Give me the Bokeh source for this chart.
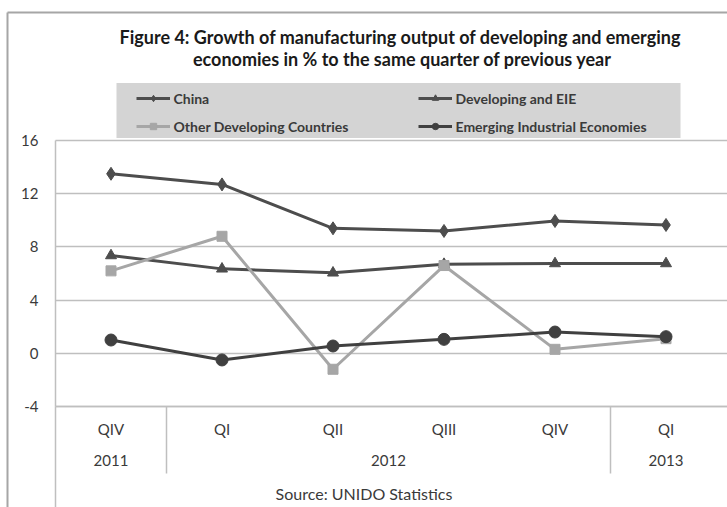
from bokeh.plotting import figure
from bokeh.models import (Range1d, FixedTicker, LinearAxis, Legend, LegendItem,
                          Label, BoxAnnotation)
from bokeh.embed import file_html
from bokeh.resources import INLINE

# ---- data ----
quarters = ["QIV", "QI", "QII", "QIII", "QIV", "QI"]
years = ["2011", "2012", "2012", "2012", "2012", "2013"]
china = [13.5, 12.7, 9.4, 9.2, 9.95, 9.65]
dev_eie = [7.35, 6.35, 6.05, 6.7, 6.75, 6.75]
other = [6.2, 8.8, -1.2, 6.6, 0.3, 1.1]
eie = [1.0, -0.5, 0.55, 1.05, 1.6, 1.25]
y_ticks = [-4, 0, 4, 8, 12, 16]
title_lines = ["Figure 4: Growth of manufacturing output of developing  and emerging",
               "economies in % to the same quarter of previous year"]
source = "Source: UNIDO Statistics"

FONT = "Lato"
GRID = "#bfbfbf"
BORDER = "#a6a6a6"
TXT = "#3a3a3a"
FS = "15px"

xs = [i + 0.5 for i in range(len(quarters))]

# year groups
bounds = [i for i in range(1, len(years)) if years[i] != years[i - 1]]
starts = [0] + bounds
ends = bounds + [len(years)]
year_centers = [(s + e) / 2 for s, e in zip(starts, ends)]
year_labels = [years[s] for s in starts]

# the frame covers the whole page; axes are pinned with fixed_location
x_start = -0.4955
x_end = len(quarters) + 0.054
y_min = min(y_ticks)
y_top = max(y_ticks) + 10.53
y_bottom = y_min - 7.594
p = figure(width=727, height=507, x_range=Range1d(x_start, x_end),
           y_range=Range1d(y_bottom, y_top),
           output_backend="svg", toolbar_location=None, y_axis_location=None,
           min_border_left=0, min_border_right=0,
           min_border_top=0, min_border_bottom=0)
p.outline_line_color = None
p.background_fill_color = "white"
p.border_fill_color = "white"
p.grid.visible = False


def plain_axis(**kw):
    base = dict(major_tick_in=0, major_tick_out=0, major_tick_line_color=None,
                minor_tick_in=0, minor_tick_out=0, minor_tick_line_color=GRID,
                minor_tick_line_width=1.5, axis_line_color=None,
                major_label_text_font=FONT, major_label_text_font_size=FS,
                major_label_text_color=TXT)
    base.update(kw)
    return base


# y axis at x = 0; its inward ticks are the horizontal gridlines
ya = LinearAxis(**plain_axis(ticker=FixedTicker(ticks=y_ticks), fixed_location=0,
                             bounds=(y_min, max(y_ticks)),
                             major_label_overrides={t: str(t) for t in y_ticks},
                             axis_line_color=GRID, axis_line_width=1.5,
                             major_tick_in=int(round(x_end * 111)), major_tick_line_color=GRID,
                             major_tick_line_width=1.5, major_label_standoff=17),
                level="underlay")
p.add_layout(ya, "left")

# quarter axis
xa = p.xaxis[0]
for k, v in plain_axis(ticker=FixedTicker(ticks=xs), fixed_location=y_min,
                       major_label_overrides={x: q for x, q in zip(xs, quarters)},
                       bounds=(0, x_end),
                       axis_line_color=GRID, axis_line_width=1.5,
                       major_label_standoff=13).items():
    setattr(xa, k, v)

# year axis
yr_ax = LinearAxis(**plain_axis(ticker=FixedTicker(ticks=year_centers), fixed_location=y_min,
                                major_label_overrides={x: y for x, y in zip(year_centers, year_labels)},
                                major_label_standoff=48))
p.add_layout(yr_ax, "below")

# year separators
sep_ax = LinearAxis(**plain_axis(ticker=FixedTicker(ticks=[], minor_ticks=bounds),
                                 fixed_location=y_min, minor_tick_out=67,
                                 major_label_standoff=0))
p.add_layout(sep_ax, "below")

# left line continuation to the bottom edge
edge_ax = LinearAxis(**plain_axis(ticker=FixedTicker(ticks=[], minor_ticks=[0]),
                                  fixed_location=y_min, minor_tick_out=110,
                                  major_label_standoff=0))
p.add_layout(edge_ax, "below")

# source line
src_ax = LinearAxis(**plain_axis(ticker=FixedTicker(ticks=[]), fixed_location=y_min,
                                 major_label_standoff=0,
                                 axis_label=source, axis_label_standoff=77,
                                 axis_label_text_font=FONT, axis_label_text_font_size="16px",
                                 axis_label_text_font_style="normal",
                                 axis_label_text_color=TXT))
p.add_layout(src_ax, "below")

# outer border (top and left edges)
border_x = -0.43
border_y = y_top - 0.88
p.add_layout(LinearAxis(**plain_axis(ticker=FixedTicker(ticks=[]), fixed_location=border_y,
                                     bounds=(border_x, x_end), axis_line_color=BORDER,
                                     axis_line_width=2, major_label_standoff=0)), "above")
p.add_layout(LinearAxis(**plain_axis(ticker=FixedTicker(ticks=[]), fixed_location=border_x,
                                     bounds=(y_bottom, border_y), axis_line_color=BORDER,
                                     axis_line_width=2, major_label_standoff=0)), "left")

# series
series = [
    ("China", china, "#4d4d4d", "diamond", 13),
    ("Developing and EIE", dev_eie, "#4d4d4d", "triangle", 11),
    ("Other Developing Countries", other, "#a6a6a6", "square", 10),
    ("Emerging Industrial Economies", eie, "#404040", "circle", 12),
]
items = []
for name, vals, col, mk, sz in series:
    ln = p.line(xs, vals, line_color=col, line_width=3)
    sc = p.scatter(xs, vals, marker=mk, size=sz, fill_color=col, line_color=col)
    items.append(LegendItem(label=name, renderers=[ln, sc]))

# legend background box (screen px measured up from the bottom edge)
p.add_layout(BoxAnnotation(left=116, right=680, top=424.5, bottom=369.5,
                           left_units="screen", right_units="screen",
                           top_units="screen", bottom_units="screen",
                           fill_color="#d4d4d4", fill_alpha=1, line_color=None))

legend = Legend(items=items, location=(135.5, 372.2), orientation="horizontal", ncols=2,
                background_fill_alpha=0, border_line_color=None,
                padding=6, spacing=11, margin=0,
                glyph_width=34, glyph_height=16, label_height=16,
                label_width=233, label_standoff=4,
                label_text_font=FONT, label_text_font_size="14px",
                label_text_font_style="bold", label_text_color=TXT)
p.add_layout(legend, "center")

# title
for i, t in enumerate(title_lines):
    p.add_layout(Label(x=402, y=471 - 22.3 * i, x_units="screen", y_units="screen",
                       text=t, text_align="center", text_baseline="middle",
                       text_font=FONT, text_font_size="18px", text_font_style="bold",
                       text_color="#1a1a1a"))

open("out.html", "w").write(file_html(p, INLINE))
